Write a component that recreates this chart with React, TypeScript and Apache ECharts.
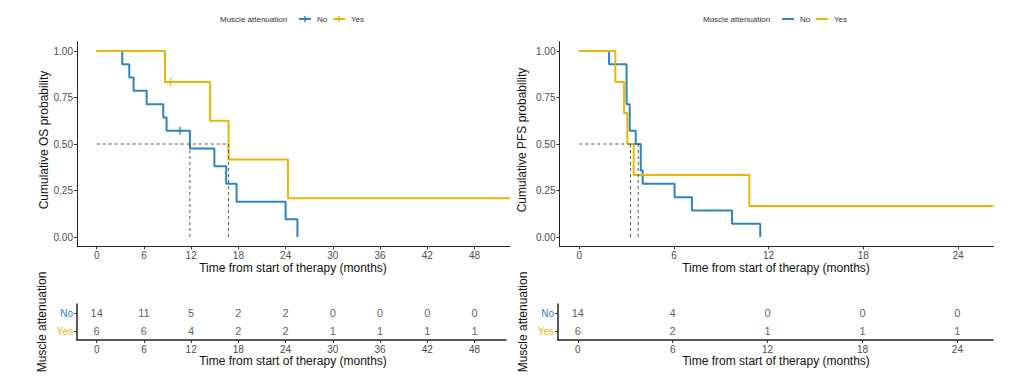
import React, { useEffect, useRef } from "react";
import * as echarts from "echarts";

const BLUE = "#2B83C6";
const YELLOW = "#E7B800";
const FONT = "Liberation Sans";

// ---- Overall survival (months) ----
const osNoTimes = [3.25, 4.14, 4.69, 6.35, 8.46, 8.88, 11.84, 14.95, 16.45, 17.77, 24.0, 25.5];
const osNoSurv = [0.929, 0.857, 0.786, 0.714, 0.643, 0.571, 0.476, 0.381, 0.286, 0.19, 0.095, 0];
const osNoEnd = 25.5;
const osNoCensor = [[10.57, 0.571]];
const osYesTimes = [8.67, 14.4, 16.75, 24.3];
const osYesSurv = [0.833, 0.625, 0.417, 0.208];
const osYesEnd = 52.5;
const osYesCensor = [[9.4, 0.833]];
const osMedianNo = 11.84;
const osMedianYes = 16.75;

// ---- Progression-free survival (months) ----
const pfsNoTimes = [1.89, 3.0, 3.2, 3.58, 3.9, 4.02, 6.04, 7.14, 9.68, 11.47];
const pfsNoSurv = [0.929, 0.714, 0.571, 0.5, 0.357, 0.286, 0.214, 0.143, 0.071, 0];
const pfsNoEnd = 11.47;
const pfsYesTimes = [2.29, 2.84, 3.05, 3.45, 10.78];
const pfsYesSurv = [0.833, 0.667, 0.5, 0.333, 0.167];
const pfsYesEnd = 26.25;
const pfsMedianNo = 3.74;
const pfsMedianYes = 3.25;

// ---- Axes ticks ----
const probTicks = [0, 0.25, 0.5, 0.75, 1];
const osTicks = [0, 6, 12, 18, 24, 30, 36, 42, 48];
const pfsTicks = [0, 6, 12, 18, 24];
const groups = ["Yes", "No"];

// ---- Numbers at risk ----
const riskOSNo = [14, 11, 5, 2, 2, 0, 0, 0, 0];
const riskOSYes = [6, 6, 4, 2, 2, 1, 1, 1, 1];
const riskPFSNo = [14, 4, 0, 0, 0];
const riskPFSYes = [6, 2, 1, 1, 1];

function stepData(times: number[], surv: number[], end: number) {
  const pts: number[][] = [[0, 1]];
  let prev = 1;
  times.forEach((t, i) => {
    pts.push([t, prev]);
    pts.push([t, surv[i]]);
    prev = surv[i];
  });
  if (end > times[times.length - 1]) pts.push([end, prev]);
  return pts;
}

const PLUS = "path://M4,0L6,0L6,4L10,4L10,6L6,6L6,10L4,10L4,6L0,6L0,4L4,4Z";

function xAxisCfg(grid: number, min: number, max: number, ticks: number[], lw: number) {
  return {
    type: "value",
    gridIndex: grid,
    min,
    max,
    axisLine: { show: true, onZero: false, lineStyle: { color: "#222", width: lw } },
    axisTick: { show: true, customValues: ticks, length: 3, lineStyle: { color: "#333" } },
    axisLabel: { customValues: ticks, fontSize: 10, color: "#4d4d4d", margin: 4, fontFamily: FONT },
    splitLine: { show: false },
  };
}

function yProbCfg(grid: number) {
  return {
    type: "value",
    gridIndex: grid,
    min: -0.05,
    max: 1.05,
    axisLine: { show: true, onZero: false, lineStyle: { color: "#222", width: 1 } },
    axisTick: { show: true, customValues: probTicks, length: 3, lineStyle: { color: "#333" } },
    axisLabel: {
      customValues: probTicks,
      fontSize: 10,
      color: "#4d4d4d",
      margin: 4,
      fontFamily: FONT,
      formatter: (v: number) => v.toFixed(2),
    },
    splitLine: { show: false },
  };
}

function yRiskCfg(grid: number) {
  return {
    type: "category",
    gridIndex: grid,
    data: groups,
    axisLine: { show: true, onZero: false, lineStyle: { color: "#222", width: 1.5 } },
    axisTick: { show: true, alignWithLabel: true, length: 3, lineStyle: { color: "#333" } },
    axisLabel: {
      fontSize: 10,
      margin: 4,
      fontFamily: FONT,
      color: (v: string) => (v === "No" ? BLUE : YELLOW),
    },
    splitLine: { show: false },
  };
}

function curve(xi: number, data: number[][], color: string) {
  return {
    type: "line",
    xAxisIndex: xi,
    yAxisIndex: xi,
    data,
    showSymbol: false,
    symbol: "none",
    lineStyle: { color, width: 2 },
    itemStyle: { color },
    z: 3,
  };
}

function dashed(xi: number, data: number[][]) {
  return {
    type: "line",
    xAxisIndex: xi,
    yAxisIndex: xi,
    data,
    showSymbol: false,
    symbol: "none",
    lineStyle: { color: "#555", width: 1, type: [3, 3] },
    z: 4,
  };
}

function censor(xi: number, data: number[][], color: string) {
  return {
    type: "scatter",
    xAxisIndex: xi,
    yAxisIndex: xi,
    data,
    symbol: PLUS,
    symbolSize: 8,
    itemStyle: { color },
    z: 5,
  };
}

function riskSeries(xi: number, ticks: number[], no: number[], yes: number[]) {
  const data: any[] = [];
  ticks.forEach((t, i) => {
    data.push([t, "No", no[i]]);
    data.push([t, "Yes", yes[i]]);
  });
  return {
    type: "scatter",
    xAxisIndex: xi,
    yAxisIndex: xi,
    data,
    symbolSize: 1,
    itemStyle: { color: "transparent" },
    label: {
      show: true,
      position: "inside",
      formatter: (p: any) => String(p.value[2]),
      fontSize: 11,
      color: "#333",
      fontFamily: FONT,
    },
  };
}

function legend(x0: number, withPlus: boolean) {
  const y = 19;
  const els: any[] = [
    {
      type: "text",
      x: x0,
      y,
      style: { text: "Muscle attenuation", fontSize: 8, fill: "#333", fontFamily: FONT, textVerticalAlign: "middle" },
    },
  ];
  const items = [
    { name: "No", color: BLUE, lx: x0 + 79, tx: x0 + 97 },
    { name: "Yes", color: YELLOW, lx: x0 + 113, tx: x0 + 131 },
  ];
  items.forEach((it) => {
    els.push({
      type: "line",
      shape: { x1: it.lx, y1: y, x2: it.lx + 12, y2: y },
      style: { stroke: it.color, lineWidth: 2 },
    });
    if (withPlus) {
      els.push({
        type: "line",
        shape: { x1: it.lx + 6, y1: y - 3, x2: it.lx + 6, y2: y + 3 },
        style: { stroke: it.color, lineWidth: 1.5 },
      });
    }
    els.push({
      type: "text",
      x: it.tx,
      y,
      style: { text: it.name, fontSize: 8, fill: "#333", fontFamily: FONT, textVerticalAlign: "middle" },
    });
  });
  return els;
}

function txt(text: string, x: number, y: number, rotate: boolean) {
  return {
    type: "text",
    x,
    y,
    rotation: rotate ? Math.PI / 2 : 0,
    style: {
      text,
      fontSize: 12,
      fill: "#111",
      fontFamily: FONT,
      textAlign: "center",
      textVerticalAlign: "middle",
    },
  };
}

export default function App() {
  const ref = useRef<HTMLDivElement>(null);
  useEffect(() => {
    if (!ref.current) return;
    const chart = echarts.init(ref.current, undefined, { renderer: "svg" });
    const xTitle = "Time from start of therapy (months)";
    chart.setOption({
      animation: false,
      backgroundColor: "#fff",
      grid: [
        { left: 77, top: 41.7, width: 433, height: 204.6, outerBoundsMode: "none" },
        { left: 77, top: 304, width: 429, height: 36, outerBoundsMode: "none" },
        { left: 559.5, top: 41.7, width: 434, height: 204.6, outerBoundsMode: "none" },
        { left: 558, top: 304, width: 435, height: 36, outerBoundsMode: "none" },
      ],
      xAxis: [
        xAxisCfg(0, -2.5, 52.5, osTicks, 1),
        xAxisCfg(1, -2.5, 52, osTicks, 1.5),
        xAxisCfg(2, -1.25, 26.25, pfsTicks, 1),
        xAxisCfg(3, -1.25, 26.25, pfsTicks, 1.5),
      ],
      yAxis: [yProbCfg(0), yRiskCfg(1), yProbCfg(2), yRiskCfg(3)],
      series: [
        curve(0, stepData(osNoTimes, osNoSurv, osNoEnd), BLUE),
        curve(0, stepData(osYesTimes, osYesSurv, osYesEnd), YELLOW),
        dashed(0, [[0, 0.5], [osMedianYes, 0.5]]),
        dashed(0, [[osMedianNo, 0.5], [osMedianNo, 0]]),
        dashed(0, [[osMedianYes, 0.5], [osMedianYes, 0]]),
        censor(0, osNoCensor, BLUE),
        censor(0, osYesCensor, YELLOW),
        riskSeries(1, osTicks, riskOSNo, riskOSYes),
        curve(2, stepData(pfsNoTimes, pfsNoSurv, pfsNoEnd), BLUE),
        curve(2, stepData(pfsYesTimes, pfsYesSurv, pfsYesEnd), YELLOW),
        dashed(2, [[0, 0.5], [pfsMedianNo, 0.5]]),
        dashed(2, [[pfsMedianYes, 0.5], [pfsMedianYes, 0]]),
        dashed(2, [[pfsMedianNo, 0.5], [pfsMedianNo, 0]]),
        riskSeries(3, pfsTicks, riskPFSNo, riskPFSYes),
      ],
      graphic: [
        ...legend(220, true),
        ...legend(703, false),
        txt("Cumulative OS probability", 44, 140, true),
        txt("Cumulative PFS probability", 522, 140, true),
        txt(xTitle, 293, 268, false),
        txt(xTitle, 776, 268, false),
        txt(xTitle, 293, 361, false),
        txt(xTitle, 776, 361, false),
        txt("Muscle attenuation", 42, 322, true),
        txt("Muscle attenuation", 523, 322, true),
      ],
    });
    return () => chart.dispose();
  }, []);
  return (
    <div
      ref={ref}
      style={{ position: "fixed", left: 0, top: 0, width: 1012, height: 378, background: "#fff" }}
    />
  );
}
